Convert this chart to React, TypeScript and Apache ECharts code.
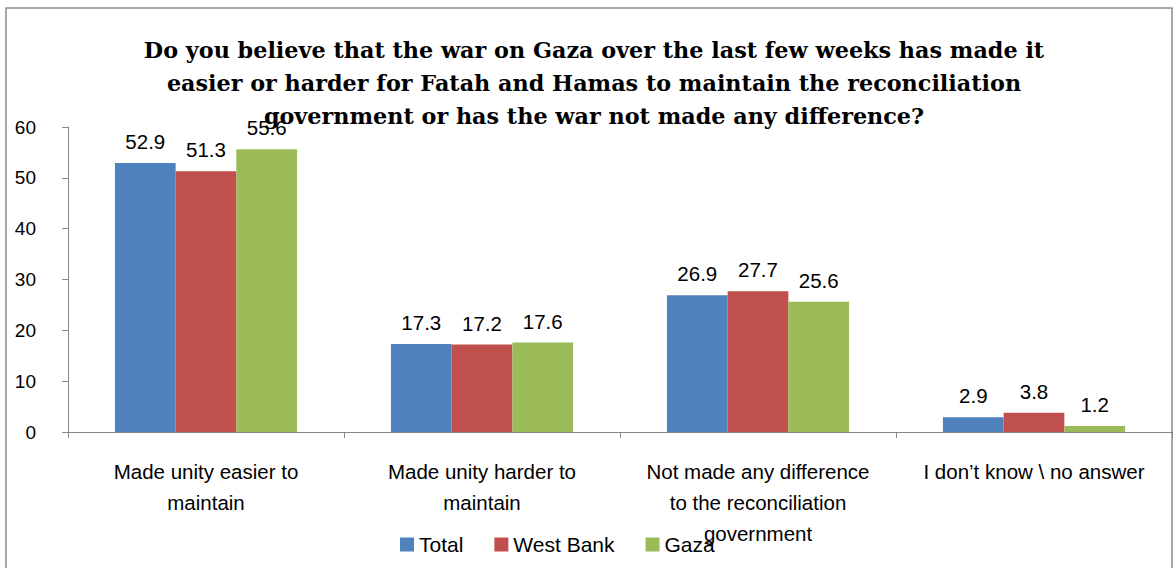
import React, { useEffect, useRef } from "react";
import * as echarts from "echarts";

const titleText =
  "Do you believe that the war on Gaza over the last few weeks has made it\neasier or harder for Fatah and Hamas to maintain the reconciliation\ngovernment or has the war not made any difference?";
const categories = [
  "Made unity easier to\nmaintain",
  "Made unity harder to\nmaintain",
  "Not made any difference\nto the reconciliation\ngovernment",
  "I don’t know \\ no answer",
];
const seriesNames = ["Total", "West Bank", "Gaza"];
const totalValues = [52.9, 17.3, 26.9, 2.9];
const westBankValues = [51.3, 17.2, 27.7, 3.8];
const gazaValues = [55.6, 17.6, 25.6, 1.2];
const colors = ["#4F81BD", "#C0504D", "#9BBB59"];

export default function App() {
  const ref = useRef<HTMLDivElement>(null);
  useEffect(() => {
    if (!ref.current) return;
    const chart = echarts.init(ref.current, null, { renderer: "svg" });
    const font = "'Liberation Sans', 'Open Sans', sans-serif";
    const values = [totalValues, westBankValues, gazaValues];
    chart.setOption({
      animation: false,
      backgroundColor: "#fff",
      title: {
        text: titleText,
        left: 589,
        textAlign: "center",
        top: 28,
        textStyle: {
          fontFamily: "'DejaVu Serif', 'Liberation Serif', serif",
          fontWeight: "bold",
          fontSize: 22.3,
          lineHeight: 33,
          color: "#000",
        },
      },
      graphic: [
        {
          type: "rect",
          shape: { x: 6, y: 8, width: 1166, height: 580 },
          style: { fill: "none", stroke: "#8a8a8a", lineWidth: 1.5 },
          silent: true,
          z: -1,
        },
      ],
      legend: {
        data: seriesNames,
        left: 395,
        top: 529,
        itemWidth: 14,
        itemHeight: 14,
        itemGap: 31,
        icon: "rect",
        textStyle: { fontFamily: font, fontSize: 21, color: "#000" },
      },
      grid: { left: 68, right: 2, top: 127, bottom: 136, containLabel: false },
      xAxis: {
        type: "category",
        data: categories,
        axisLine: { lineStyle: { color: "#888" } },
        axisTick: { show: true, length: 6, lineStyle: { color: "#888" } },
        axisLabel: {
          interval: 0,
          fontFamily: font,
          fontSize: 20.5,
          lineHeight: 31,
          color: "#000",
          margin: 24,
        },
      },
      yAxis: {
        type: "value",
        min: 0,
        max: 60,
        interval: 10,
        axisLine: { show: true, lineStyle: { color: "#888" } },
        axisTick: { show: true, length: 6, lineStyle: { color: "#888" } },
        splitLine: { show: false },
        axisLabel: { fontFamily: font, fontSize: 19, color: "#000", margin: 32 },
      },
      series: seriesNames.map((name, i) => ({
        name,
        type: "bar",
        data: values[i],
        barGap: "0%",
        barCategoryGap: "34%",
        itemStyle: { color: colors[i] },
        label: {
          show: true,
          position: "top",
          distance: 11,
          fontFamily: font,
          fontSize: 20.5,
          color: "#000",
        },
      })),
    });
    return () => chart.dispose();
  }, []);
  return (
    <div
      ref={ref}
      style={{ position: "absolute", left: 0, top: 0, width: 1174, height: 568 }}
    />
  );
}
